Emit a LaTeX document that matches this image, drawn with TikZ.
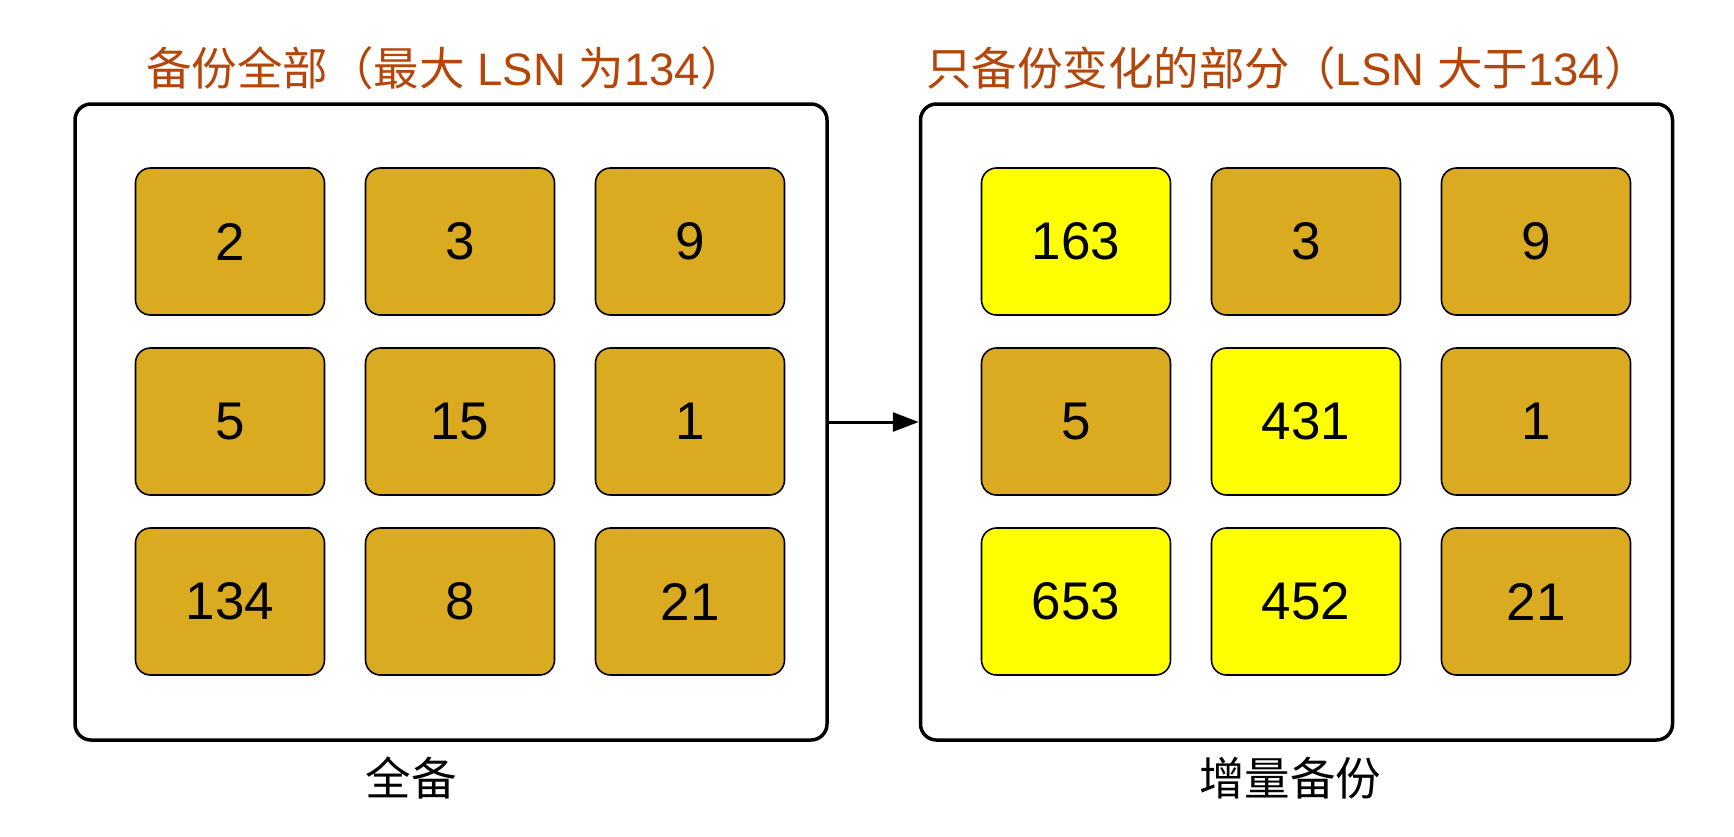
\documentclass[tikz,border=0pt]{standalone}
\usepackage{fontspec}
\setmainfont{Liberation Sans}
\newfontfamily\cjk{Noto Sans CJK SC}
\usetikzlibrary{arrows.meta}
\definecolor{gold}{RGB}{218,170,32}
\definecolor{titlec}{RGB}{180,70,10}
\definecolor{hl}{RGB}{255,255,0}
\tikzset{
  outerbox/.style={draw=black, line width=3.5pt, rounded corners=16pt, fill=white,
    minimum width=752pt, minimum height=636pt, inner sep=0pt},
  cell/.style={draw=black, line width=1.6pt, rounded corners=15pt, fill=gold,
    minimum width=189pt, minimum height=147pt, inner sep=0pt,
    font=\fontsize{53}{60}\selectfont},
  newcell/.style={cell, fill=hl},
  titletext/.style={text=titlec, inner sep=0pt, font=\fontsize{45.5}{52}\selectfont},
  captext/.style={text=black, inner sep=0pt, font=\cjk\fontsize{45.5}{50}\selectfont},
  link/.style={draw=black, line width=3pt, -{Triangle[length=26pt,width=19pt]}}
}
\begin{document}
\begin{tikzpicture}[x=1pt,y=-1pt]
\useasboundingbox (0,0) rectangle (1734,836);
\fill[white] (0,0) rectangle (1734,836);
% outer boxes
\node[outerbox] (outerL) at (451,422) {};
\node[outerbox] (outerR) at (1296.5,422) {};
% titles
\node[titletext] (titleL) at (446,68) {{\cjk 备份全部（最大} LSN {\cjk 为}134{\cjk ）}};
\node[titletext] (titleR) at (1288,68) {{\cjk 只备份变化的部分（}LSN {\cjk 大于}134{\cjk ）}};
% captions
\node[captext] (capL) at (411,778) {全备};
\node[captext] (capR) at (1290,778) {增量备份};
% left cells
\node[cell] (L11) at (230,241.5) {2};
\node[cell] (L12) at (460,241.5) {3};
\node[cell] (L13) at (690,241.5) {9};
\node[cell] (L21) at (230,421.5) {5};
\node[cell] (L22) at (460,421.5) {15};
\node[cell] (L23) at (690,421.5) {1};
\node[cell] (L31) at (230,601.5) {134};
\node[cell] (L32) at (460,601.5) {8};
\node[cell] (L33) at (690,601.5) {21};
% right cells
\node[newcell] (R11) at (1076,241.5) {163};
\node[cell] (R12) at (1306,241.5) {3};
\node[cell] (R13) at (1536,241.5) {9};
\node[cell] (R21) at (1076,421.5) {5};
\node[newcell] (R22) at (1306,421.5) {431};
\node[cell] (R23) at (1536,421.5) {1};
\node[newcell] (R31) at (1076,601.5) {653};
\node[newcell] (R32) at (1306,601.5) {452};
\node[cell] (R33) at (1536,601.5) {21};
% arrow
\draw[link] (outerL.east) -- (outerR.west);
\end{tikzpicture}
\end{document}
